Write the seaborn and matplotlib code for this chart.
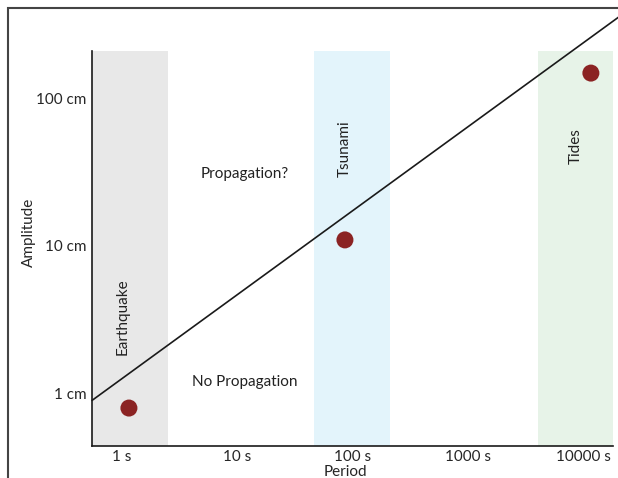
import numpy as np
import pandas as pd
import matplotlib
matplotlib.use("Agg")
import matplotlib.pyplot as plt
import seaborn as sns
from matplotlib.patches import Rectangle

# events: typical period (s) and amplitude (cm)
events = ["Earthquake", "Tsunami", "Tides"]
periods = [1.15, 86.0, 11700.0]
amplitudes = [0.79, 11.0, 150.0]

# shaded period bands for each event (s)
band_lo = [0.55, 46.0, 4100.0]
band_hi = [2.5, 210.0, 18200.0]
band_colors = ["#e8e8e8", "#e3f4fb", "#e7f3e8"]

# propagation threshold line (period s, amplitude cm)
line_period = [0.55, 40000.0]
line_amp = [0.89, 530.0]

xticks = [1, 10, 100, 1000, 10000]
xtick_labels = ["1 s", "10 s", "100 s", "1000 s", "10000 s"]
yticks = [1, 10, 100]
ytick_labels = ["1 cm", "10 cm", "100 cm"]

sns.set_style("white")
plt.rcParams["font.family"] = ["Lato", "DejaVu Sans"]

fig = plt.figure(figsize=(6.18, 4.78), dpi=100)
ax = fig.add_axes([92 / 618, 32 / 478, (613 - 92) / 618, (446 - 51) / 478])

for lo, hi, c in zip(band_lo, band_hi, band_colors):
    ax.axvspan(lo, hi, color=c, lw=0, zorder=0)

df = pd.DataFrame({"event": events, "period": periods, "amplitude": amplitudes})
sns.scatterplot(data=df, x="period", y="amplitude", s=150, color="#8b2323",
                edgecolor="none", ax=ax, zorder=3, legend=False)

ax.plot(line_period, line_amp, color="#1a1a1a", lw=1.2, clip_on=False, zorder=2)

ax.set_xscale("log")
ax.set_yscale("log")
ax.set_xlim(0.55, 18200)
ax.set_ylim(0.436, 212)
ax.set_xticks(xticks)
ax.set_xticklabels(xtick_labels, fontsize=11)
ax.set_yticks(yticks)
ax.set_yticklabels(ytick_labels, fontsize=11)
ax.minorticks_off()
ax.tick_params(axis="y", length=0, pad=4)
ax.tick_params(axis="x", length=0, pad=3)
ax.set_xlabel("Period", fontsize=11)
ax.set_ylabel("Amplitude", fontsize=11)
ax.xaxis.set_label_coords(0.486, -0.047)
ax.yaxis.set_label_coords(-0.108, 0.54)
ax.spines["top"].set_visible(False)
ax.spines["right"].set_visible(False)
for s in ["left", "bottom"]:
    ax.spines[s].set_color("#1a1a1a")
    ax.spines[s].set_linewidth(1.2)

ax.text(11.7, 30.9, "Propagation?", fontsize=11, ha="center", va="center", color="#222")
ax.text(11.7, 1.19, "No Propagation", fontsize=11, ha="center", va="center", color="#222")
ax.text(1.02, 3.3, "Earthquake", fontsize=11, rotation=90, ha="center", va="center", color="#222")
ax.text(86, 46, "Tsunami", fontsize=11, rotation=90, ha="center", va="center", color="#222")
ax.text(8700, 48, "Tides", fontsize=11, rotation=90, ha="center", va="center", color="#222")

# outer frame of the original panel
fig.patches.append(Rectangle((8 / 618, -0.2), 1.2, 1.2 - 8 / 478, transform=fig.transFigure,
                             fill=False, edgecolor="#444444", lw=1.5))

fig.savefig("out.png", dpi=100)
